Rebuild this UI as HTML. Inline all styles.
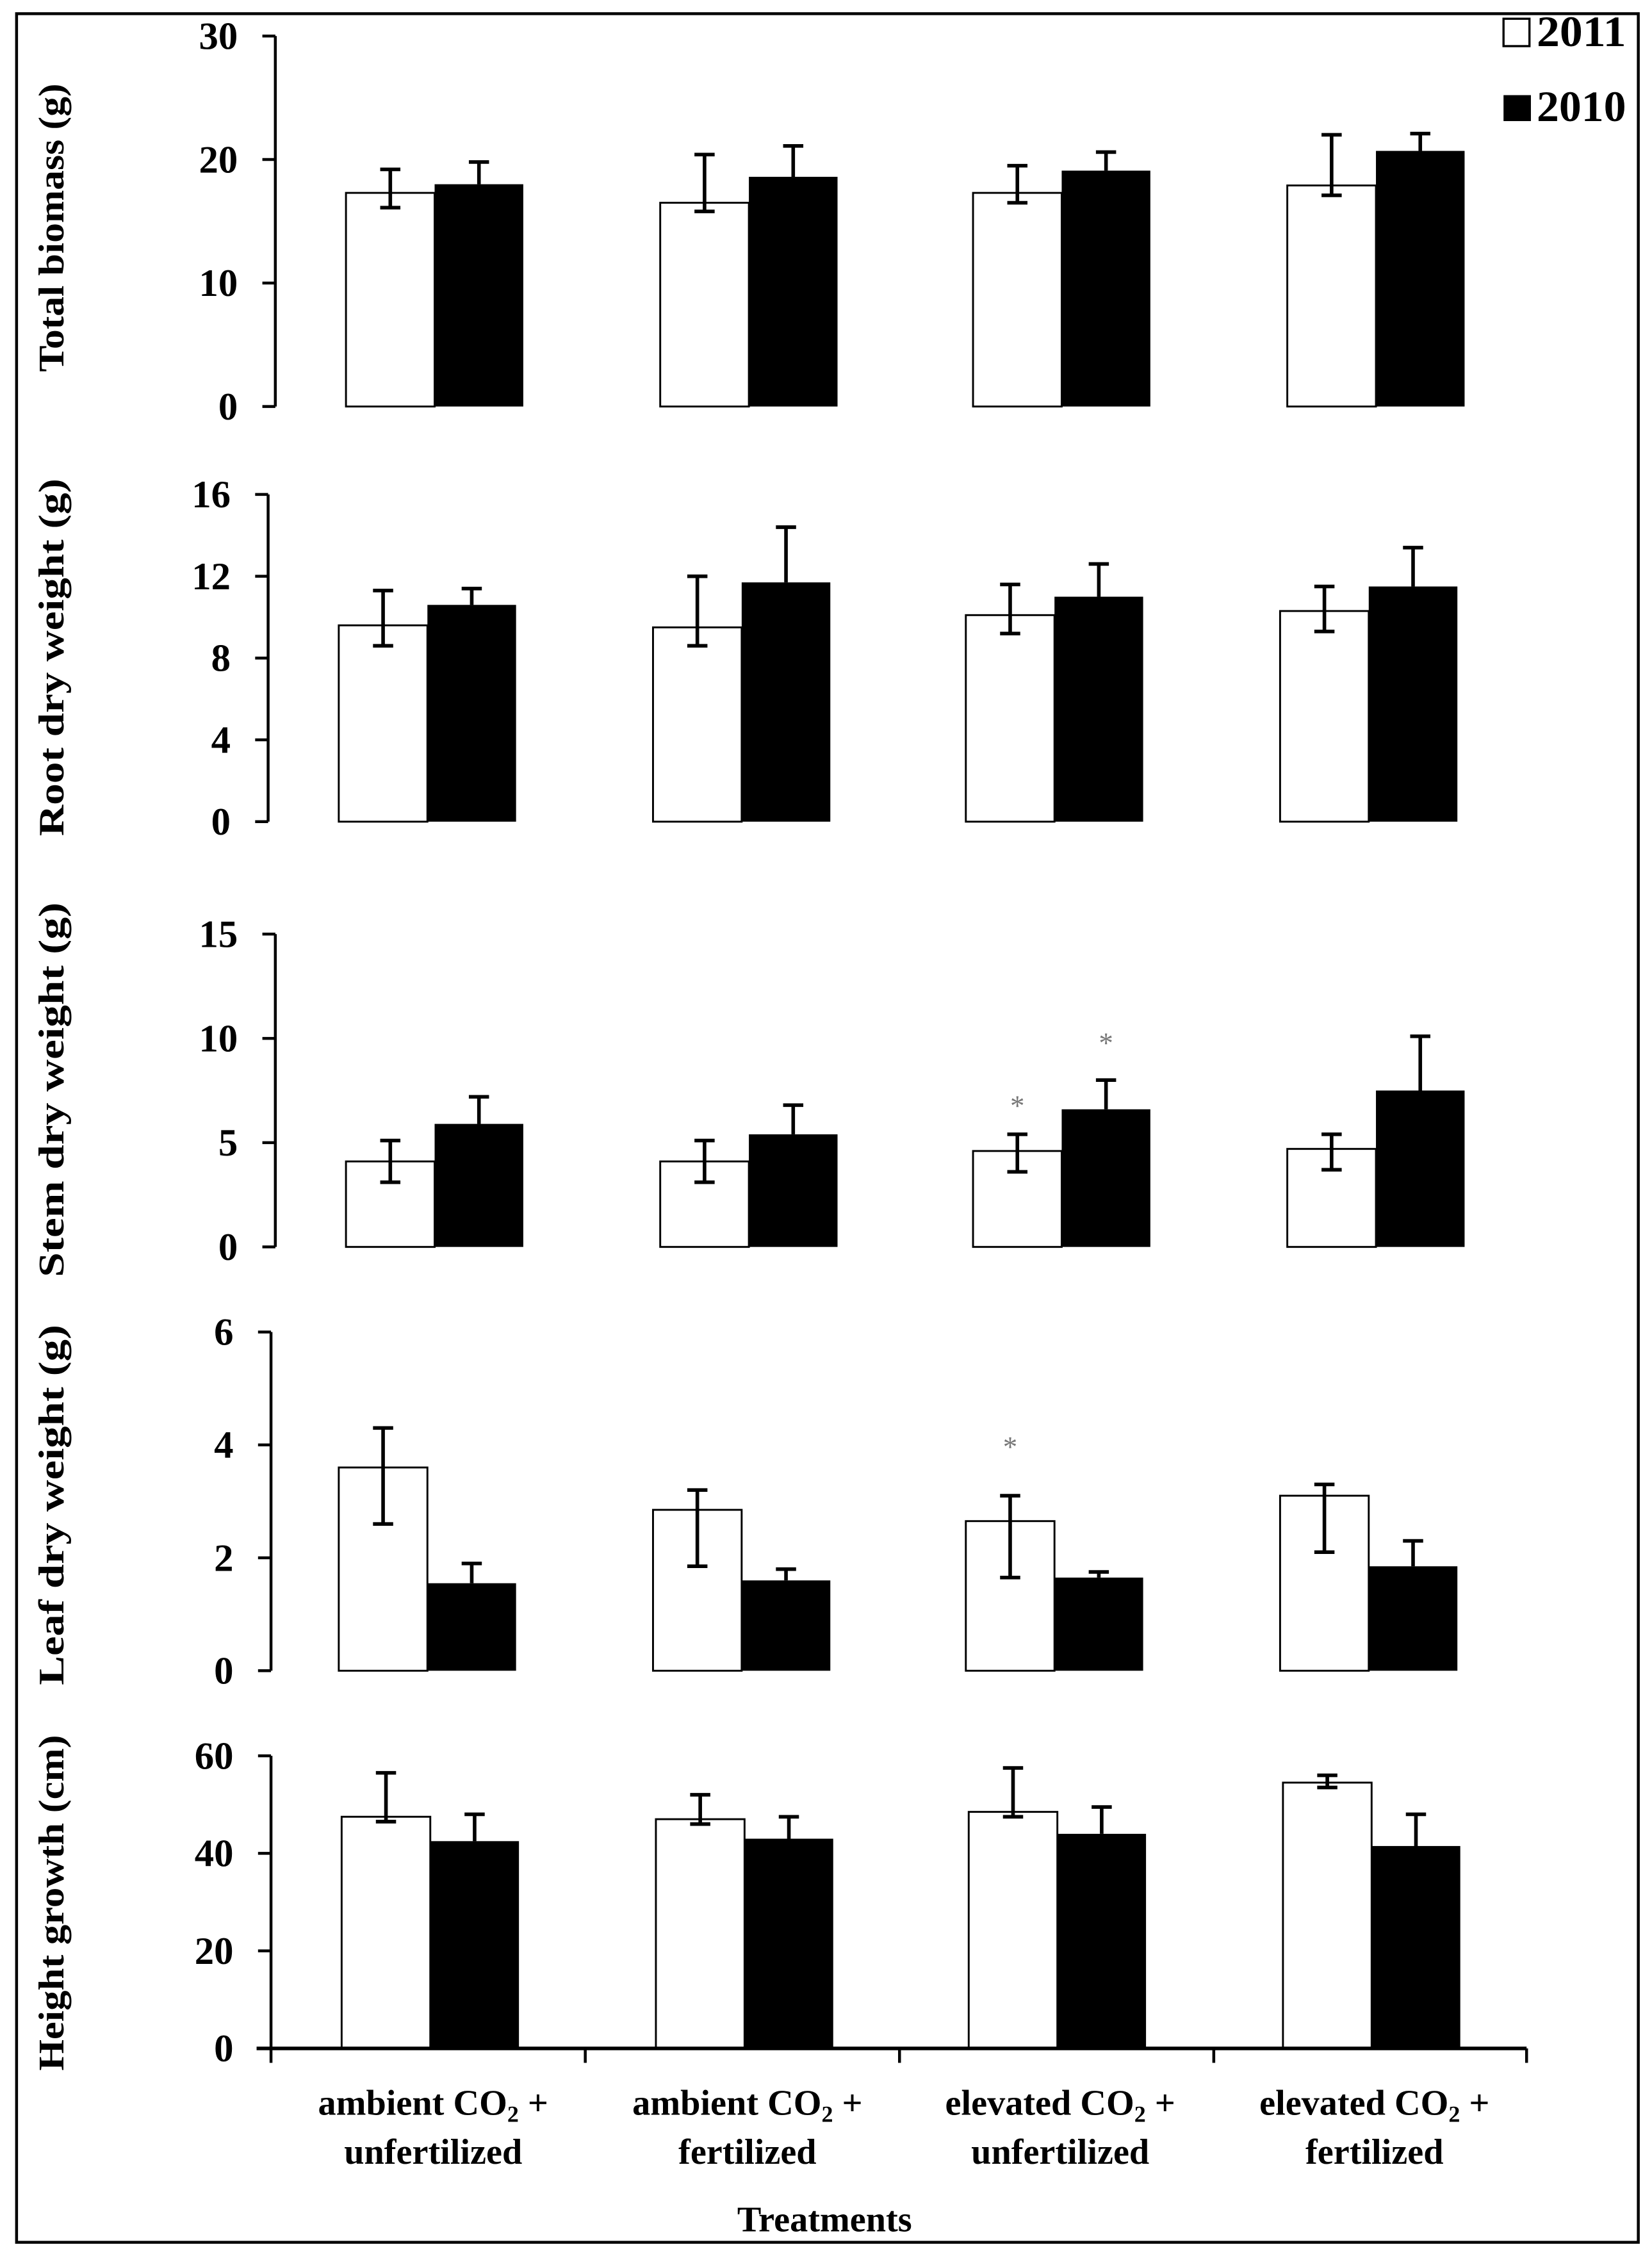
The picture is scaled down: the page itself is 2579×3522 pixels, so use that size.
<!DOCTYPE html>
<html><head><meta charset="utf-8"><style>
html,body{margin:0;padding:0;background:#fff;}
svg{display:block;}
text{font-family:"Liberation Serif",serif;font-weight:bold;fill:#000;}
</style></head><body>
<svg id="chart" xmlns="http://www.w3.org/2000/svg" width="2579" height="3522" viewBox="0 0 1146 1565" preserveAspectRatio="none">
<rect x="11.5" y="9.5" width="1125" height="1546" fill="#fff" stroke="#000" stroke-width="2"/>
<g>
<rect x="1043" y="13" width="18" height="19" fill="#fff" stroke="#000" stroke-width="1.5"/>
<text x="1066" y="32" font-size="30" textLength="62" lengthAdjust="spacingAndGlyphs">2011</text>
<rect x="1043" y="66" width="19" height="18" fill="#000"/>
<text x="1066" y="84" font-size="30" textLength="62" lengthAdjust="spacingAndGlyphs">2010</text>
</g>
<g id="panels"></g>
</svg>
<script>
const categories = ["ambient CO2 + unfertilized","ambient CO2 + fertilized","elevated CO2 + unfertilized","elevated CO2 + fertilized"];
const titles = ["Total biomass (g)","Root dry weight (g)","Stem dry weight (g)","Leaf dry weight (g)","Height growth (cm)"];
const maxVals = [30,16,15,6,60];
const tickLabels = [[0,10,20,30],[0,4,8,12,16],[0,5,10,15],[0,2,4,6],[0,20,40,60]];
const v2011 = [[17.3,16.5,17.3,17.9],[9.6,9.5,10.1,10.3],[4.1,4.1,4.6,4.7],[3.6,2.85,2.65,3.1],[47.5,47,48.5,54.5]];
const lo2011 = [[16.1,15.8,16.5,17.1],[8.6,8.6,9.2,9.3],[3.1,3.1,3.6,3.7],[2.6,1.85,1.65,2.1],[46.5,46,47.5,53.5]];
const hi2011 = [[19.2,20.4,19.5,22.0],[11.3,12.0,11.6,11.5],[5.1,5.1,5.4,5.4],[4.3,3.2,3.1,3.3],[56.5,52,57.5,56]];
const v2010 = [[18.0,18.6,19.1,20.7],[10.6,11.7,11.0,11.5],[5.9,5.4,6.6,7.5],[1.55,1.6,1.65,1.85],[42.5,43,44,41.5]];
const hi2010 = [[19.8,21.1,20.6,22.1],[11.4,14.4,12.6,13.4],[7.2,6.8,8.0,10.1],[1.9,1.8,1.75,2.3],[48,47.5,49.5,48]];
const stars = [{panel:2,cat:2,series:0,value:7.0},{panel:2,cat:2,series:1,value:10.0},{panel:3,cat:2,series:0,value:4.05}];

const layout = [
 {ax:191, top:25, base:282, tc:158, tl:200},
 {ax:186, top:343, base:570, tc:456, tl:248},
 {ax:191, top:648, base:865, tc:756, tl:260},
 {ax:188, top:924, base:1159, tc:1044, tl:250},
 {ax:188, top:1218, base:1421, tc:1320, tl:233}
];
const NS="http://www.w3.org/2000/svg";
const root=document.getElementById('panels');
function mk(tag,attrs,parent){const e=document.createElementNS(NS,tag);for(const k in attrs)e.setAttribute(k,attrs[k]);(parent||root).appendChild(e);return e;}
const groupStart=[239,457,674,892], bw=61.5;
for(let p=0;p<5;p++){
  const L=layout[p], shift=L.ax-190;
  const y=v=>L.base-(v/maxVals[p])*(L.base-L.top);
  const g=mk('g',{});
  
  
  const yl=mk('line',{x1:L.ax,y1:L.top,x2:L.ax,y2:L.base,stroke:'#000','stroke-width':2},g);
  
  
  tickLabels[p].forEach(t=>{
    const ln=mk('line',{x1:L.ax-9,y1:y(t),x2:L.ax,y2:y(t),stroke:'#000','stroke-width':2},g);
    
    
    const tx=mk('text',{x:L.ax-26,y:y(t)+9,'font-size':27,'text-anchor':'end'},g);
    tx.textContent=t;
    
    
  });
  const tt=mk('text',{x:0,y:0,'font-size':25,'text-anchor':'middle',textLength:L.tl,lengthAdjust:'spacingAndGlyphs',transform:`translate(44,${L.tc}) rotate(-90)`},g);
  tt.textContent=titles[p];
  
  
  for(let c=0;c<4;c++){
    const x0=groupStart[c]+shift-2*(p===3?1:0);
    const b1=mk('rect',{x:x0,y:y(v2011[p][c]),width:bw,height:L.base-y(v2011[p][c]),fill:'#fff',stroke:'#000','stroke-width':1.3},g);
    
    
    const b2=mk('rect',{x:x0+bw,y:y(v2010[p][c]),width:bw,height:L.base-y(v2010[p][c]),fill:'#000'},g);
    
    
    const cx1=x0+bw/2, cx2=x0+bw*1.5;
    const e1=mk('path',{d:`M${cx1},${y(lo2011[p][c])}V${y(hi2011[p][c])}M${cx1-7},${y(lo2011[p][c])}h14M${cx1-7},${y(hi2011[p][c])}h14`,stroke:'#000','stroke-width':2.5,fill:'none'},g);
    
    
    const e2=mk('path',{d:`M${cx2},${y(v2010[p][c])}V${y(hi2010[p][c])}M${cx2-7},${y(hi2010[p][c])}h14`,stroke:'#000','stroke-width':2.5,fill:'none'},g);
    
    
  }
  stars.filter(s=>s.panel===p).forEach(s=>{
    const x0=groupStart[s.cat]+shift-2*(p===3?1:0);
    const st=mk('text',{x:x0+bw*(s.series+0.5),y:y(s.value)+10,'font-size':20,'text-anchor':'middle',style:'fill:#777;font-weight:normal'},g);
    st.textContent='*';
    
    
  });
  if(p===4){
    const xa=mk('line',{x1:L.ax-10,y1:L.base,x2:1059,y2:L.base,stroke:'#000','stroke-width':2.5},g);
    
    
    [188,406,624,842,1059].forEach(tx=>{
      const tk=mk('line',{x1:tx,y1:L.base,x2:tx,y2:L.base+10,stroke:'#000','stroke-width':2},g);
      
      
    });
    categories.forEach((cat,i)=>{
      const cx=groupStart[i]+bw;
      const parts=cat.split(' + ');
      const t1=mk('text',{x:cx,y:1467,'font-size':25,'text-anchor':'middle'},g);
      t1.innerHTML=parts[0].replace('CO2','CO<tspan font-size="16" dy="5">2</tspan><tspan dy="-5"> +</tspan>');
      
      
      const t2=mk('text',{x:cx,y:1501,'font-size':25,'text-anchor':'middle'},g);
      t2.textContent=parts[1];
      
      
    });
    const xt=mk('text',{x:572,y:1548,'font-size':25,'text-anchor':'middle'},g);
    xt.textContent='Treatments';
    
    
  }
}
</script>
</body></html>
